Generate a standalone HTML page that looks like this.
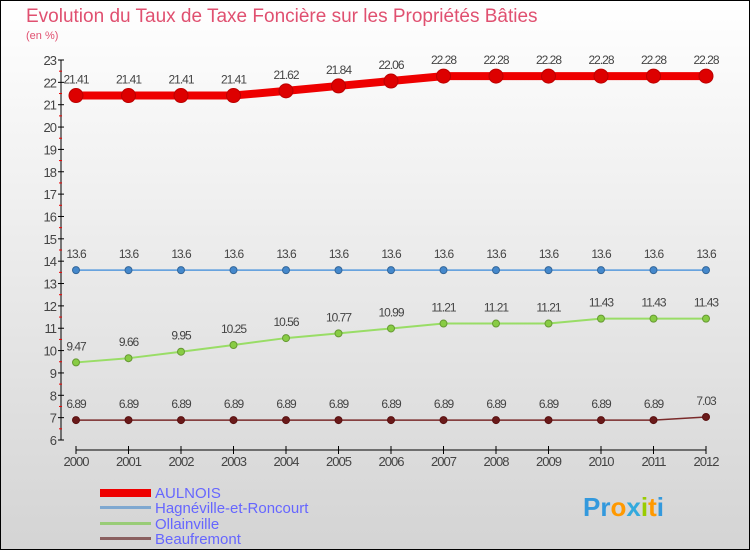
<!DOCTYPE html>
<html><head><meta charset="utf-8"><style>
body{margin:0;width:750px;height:550px;overflow:hidden;font-family:"Liberation Sans",sans-serif}
svg text{font-family:"Liberation Sans",sans-serif}
</style></head><body>
<svg id="c" width="750" height="550" xmlns="http://www.w3.org/2000/svg">
<defs><linearGradient id="bg" x1="0" y1="0" x2="0" y2="1"><stop offset="0" stop-color="#ffffff"/><stop offset="1" stop-color="#d4d4d4"/></linearGradient></defs>
<rect x="0.5" y="0.5" width="749" height="549" fill="url(#bg)" stroke="#000"/>
<text x="26" y="22" font-size="19" fill="#e05070">Evolution du Taux de Taxe Foncière sur les Propriétés Bâties</text>
<text x="26" y="39" font-size="11" fill="#e05070">(en %)</text>
<g id="axes"></g><g id="series"></g>
<g>
<rect x="100" y="489" width="51" height="8" fill="#ee0000"/>
<text x="155" y="498" font-size="15" fill="#6666ff">AULNOIS</text>
<rect x="100" y="506" width="51" height="3" fill="#7fa8d0"/>
<text x="155" y="513" font-size="15" fill="#6666ff">Hagnéville-et-Roncourt</text>
<rect x="100" y="522" width="51" height="3" fill="#99cc77"/>
<text x="155" y="529" font-size="15" fill="#6666ff">Ollainville</text>
<rect x="100" y="537" width="51" height="3" fill="#8a6060"/>
<text x="155" y="544" font-size="15" fill="#6666ff">Beaufremont</text>
</g>
<g font-size="26" font-weight="bold">
<text x="583" y="516"><tspan fill="#3399dd">Pr</tspan><tspan fill="#ff9900">o</tspan><tspan fill="#33aadd">x</tspan><tspan fill="#99cc00">i</tspan><tspan fill="#ff9900">t</tspan><tspan fill="#3399dd">i</tspan></text>
</g>
</svg>
<script>
const years=[2000,2001,2002,2003,2004,2005,2006,2007,2008,2009,2010,2011,2012];
const aulnois=[21.41,21.41,21.41,21.41,21.62,21.84,22.06,22.28,22.28,22.28,22.28,22.28,22.28];
const hagneville=[13.6,13.6,13.6,13.6,13.6,13.6,13.6,13.6,13.6,13.6,13.6,13.6,13.6];
const ollainville=[9.47,9.66,9.95,10.25,10.56,10.77,10.99,11.21,11.21,11.21,11.43,11.43,11.43];
const beaufremont=[6.89,6.89,6.89,6.89,6.89,6.89,6.89,6.89,6.89,6.89,6.89,6.89,7.03];
const yTicks=[6,7,8,9,10,11,12,13,14,15,16,17,18,19,20,21,22,23];
const NS="http://www.w3.org/2000/svg";
const x=i=>76+i*(706-76)/(years.length-1);
const y=v=>440-(v-6)*(380/17);
function mk(t,a,p){const e=document.createElementNS(NS,t);for(const k in a)e.setAttribute(k,a[k]);p.appendChild(e);return e;}
const ax=document.getElementById('axes');
const yl=mk('line',{x1:61,y1:60,x2:61,y2:440,stroke:'#000'},ax);


yTicks.forEach(v=>{
 mk('line',{x1:58,x2:64,y1:y(v),y2:y(v),stroke:'#000'},ax);
 if(v<23)mk('line',{x1:59,x2:62,y1:y(v+0.5),y2:y(v+0.5),stroke:'#e00'},ax);
 const t=mk('text',{x:56,y:y(v)+5,'text-anchor':'end','font-size':13,fill:'#444','letter-spacing':'-1'},ax);
 t.textContent=v;
 
 
});
const xl=mk('line',{x1:76,y1:450,x2:706,y2:450,stroke:'#000'},ax);


years.forEach((yr,i)=>{
 mk('line',{x1:x(i),x2:x(i),y1:446,y2:454,stroke:'#000'},ax);
 const t=mk('text',{x:x(i),y:466,'text-anchor':'middle','font-size':13,fill:'#444','letter-spacing':'-1'},ax);
 t.textContent=yr;
 
 
});
const sg=document.getElementById('series');
function series(vals,name,color,w,r,dot,stroke){
 const g=mk('g',{},sg);
 
 
 const pl=mk('polyline',{points:vals.map((v,i)=>x(i)+','+y(v)).join(' '),fill:'none',stroke:color,'stroke-width':w},g);
 
 
 vals.forEach((v,i)=>{
  const c=mk('circle',{cx:x(i),cy:y(v),r:r,fill:dot,stroke:stroke,'stroke-width':1},g);
  
  
  const t=mk('text',{x:x(i),y:y(v)-12,'text-anchor':'middle','font-size':12,fill:'#444','letter-spacing':'-1'},g);
  t.textContent=v;
  
  
 });
}
series(beaufremont,'beaufremont','#7a2a2a',1.5,3.5,'#6a1a1a','#5a1010');
series(ollainville,'ollainville','#99dd66',2,3.5,'#88cc44','#669933');
series(hagneville,'hagneville','#5599dd',1.5,3.5,'#4488cc','#336699');
series(aulnois,'aulnois','#ee0000',8,7,'#dd0000','#bb0000');
</script>
</body></html>
